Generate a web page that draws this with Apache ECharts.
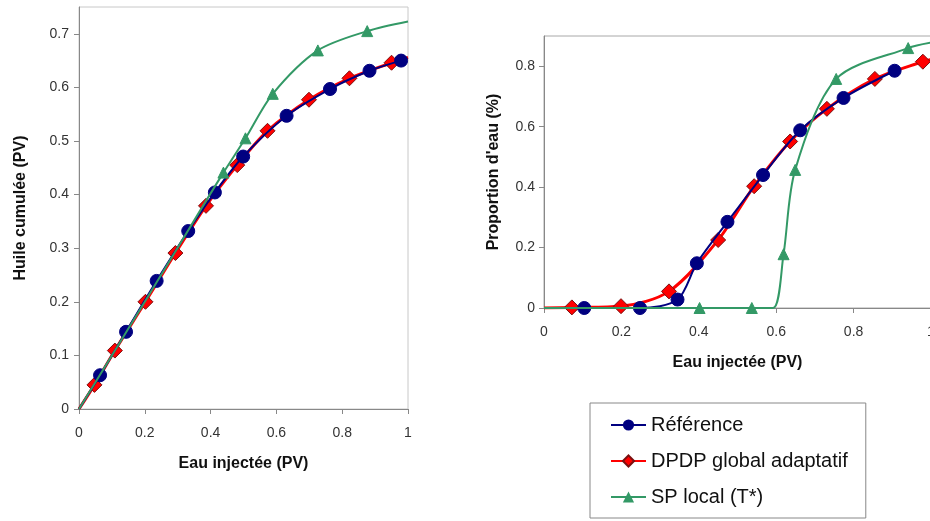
<!DOCTYPE html>
<html><head><meta charset="utf-8">
<script src="https://cdn.jsdelivr.net/npm/echarts@6/dist/echarts.min.js"></script>
<style>html,body{margin:0;padding:0;background:#fff}#c{width:930px;height:521px}</style>
</head><body><div id="c"></div>
<script>
// ---- data (x = Eau injectée PV) ----
const seriesNames = ['Référence', 'DPDP global adaptatif', 'SP local (T*)'];
const xTicks = [0, 0.2, 0.4, 0.6, 0.8, 1];
const leftYTicks = [0, 0.1, 0.2, 0.3, 0.4, 0.5, 0.6, 0.7];
const rightYTicks = [0, 0.2, 0.4, 0.6, 0.8];

// Left: Huile cumulée (PV)
const leftRef = [[0,0],[0.064,0.063],[0.143,0.144],[0.236,0.239],[0.332,0.332],[0.413,0.404],[0.499,0.471],[0.631,0.547],[0.763,0.597],[0.883,0.631],[0.979,0.650]];
const leftRefHidden = [0];
const leftDpdp = [[0,0],[0.047,0.045],[0.109,0.109],[0.202,0.200],[0.293,0.291],[0.386,0.379],[0.481,0.455],[0.573,0.519],[0.699,0.577],[0.822,0.617],[0.950,0.646],[1.0,0.656]];
const leftDpdpHidden = [0, 11];
const leftSp = [[0,0],[0.2,0.2],[0.37,0.372],[0.439,0.441],[0.506,0.505],[0.589,0.588],[0.726,0.669],[0.876,0.705],[1.0,0.723]];
const leftSpHidden = [0, 1, 2, 8];

// Right: Proportion d'eau (%)
const rightRef = [[0,0],[0.104,0],[0.248,0],[0.345,0.028],[0.395,0.148],[0.474,0.285],[0.566,0.440],[0.662,0.588],[0.774,0.695],[0.906,0.785]];
const rightRefHidden = [0];
const rightDpdp = [[0,0],[0.072,0.002],[0.199,0.006],[0.323,0.055],[0.450,0.225],[0.543,0.403],[0.636,0.551],[0.731,0.659],[0.855,0.758],[0.979,0.815],[1.0,0.822]];
const rightDpdpHidden = [0, 10];
const rightSp = [[0,0],[0.402,0],[0.537,0],[0.592,0],[0.619,0.178],[0.649,0.457],[0.755,0.758],[0.941,0.860],[1.0,0.878]];
const rightSpHidden = [0, 3, 8];

// ---- styling ----
const FONT = 'Liberation Sans, Arial, sans-serif';
const colRef = '#000080', colDpdp = '#ff0000', colSp = '#339966';

function pts(arr, hidden) {
  return arr.map((p, i) => hidden.includes(i) ? {value: p, symbol: 'none'} : p);
}
function mk(name, data, hidden, idx, kind) {
  const base = {
    name, type: 'line', xAxisIndex: idx, yAxisIndex: idx,
    data: pts(data, hidden), smooth: 0.3, clip: true
  };
  if (kind === 'ref') Object.assign(base, {
    symbol: 'circle', symbolSize: 13, z: 3,
    lineStyle: {color: colRef, width: 2}, itemStyle: {color: colRef, borderColor: colRef}
  });
  if (kind === 'dpdp') Object.assign(base, {
    symbol: 'diamond', symbolSize: 15, z: 2,
    lineStyle: {color: colDpdp, width: 3}, itemStyle: {color: colDpdp, borderColor: '#7a1010', borderWidth: 1}
  });
  if (kind === 'sp') Object.assign(base, {
    symbol: 'triangle', symbolSize: 11, z: 4,
    lineStyle: {color: colSp, width: 2}, itemStyle: {color: colSp, borderColor: colSp}
  });
  return base;
}

const axisLine = {show: true, lineStyle: {color: '#888', width: 1}};
const axisTick = {show: true, inside: false, length: 5, lineStyle: {color: '#888'}};
const nameStyle = {fontFamily: FONT, fontWeight: 'bold', fontSize: 16, color: '#111'};

const chart = echarts.init(document.getElementById('c'), null, {renderer: 'canvas'});
chart.setOption({
  animation: false,
  backgroundColor: '#fff',
  textStyle: {fontFamily: FONT},
  grid: [
    {left: 79, top: 7, width: 329, height: 402, show: true, borderColor: '#c8c8c8', borderWidth: 1, backgroundColor: 'transparent', outerBoundsMode: 'none', containLabel: false},
    {left: 544, top: 36, width: 387, height: 272, show: true, borderColor: '#a8a8a8', borderWidth: 1, backgroundColor: 'transparent', outerBoundsMode: 'none', containLabel: false}
  ],
  xAxis: [
    {gridIndex: 0, type: 'value', min: xTicks[0], max: xTicks[xTicks.length-1], interval: 0.2,
     name: 'Eau injectée (PV)', nameLocation: 'middle', nameGap: 47, nameTextStyle: nameStyle,
     axisLine, axisTick, splitLine: {show: false},
     axisLabel: {fontFamily: FONT, fontSize: 14, color: '#333', margin: 17}},
    {gridIndex: 1, type: 'value', min: xTicks[0], max: xTicks[xTicks.length-1], interval: 0.2,
     name: 'Eau injectée (PV)', nameLocation: 'middle', nameGap: 47, nameTextStyle: nameStyle,
     axisLine, axisTick, splitLine: {show: false},
     axisLabel: {fontFamily: FONT, fontSize: 14, color: '#333', margin: 17}}
  ],
  yAxis: [
    {gridIndex: 0, type: 'value', min: leftYTicks[0], max: 0.75, interval: 0.1,
     name: 'Huile cumulée (PV)', nameLocation: 'middle', nameGap: 50, nameTextStyle: nameStyle,
     axisLine, axisTick, splitLine: {show: false},
     axisLabel: {fontFamily: FONT, fontSize: 14, color: '#333', margin: 10, showMaxLabel: false}},
    {gridIndex: 1, type: 'value', min: rightYTicks[0], max: 0.9, interval: 0.2,
     name: "Proportion d'eau (%)", nameLocation: 'middle', nameGap: 42, nameTextStyle: nameStyle,
     axisLine, axisTick, splitLine: {show: false},
     axisLabel: {fontFamily: FONT, fontSize: 14, color: '#333', margin: 9, showMaxLabel: false}}
  ],
  legend: {
    data: seriesNames, orient: 'vertical', left: 590, top: 403,
    itemWidth: 35, itemHeight: 14, itemGap: 16,
    padding: [12, 18, 11, 20],
    borderColor: '#888', borderWidth: 1, backgroundColor: '#fff',
    textStyle: {fontFamily: FONT, fontSize: 20, color: '#111'}
  },
  series: [
    mk(seriesNames[1], leftDpdp, leftDpdpHidden, 0, 'dpdp'),
    mk(seriesNames[0], leftRef, leftRefHidden, 0, 'ref'),
    mk(seriesNames[2], leftSp, leftSpHidden, 0, 'sp'),
    mk(seriesNames[1], rightDpdp, rightDpdpHidden, 1, 'dpdp'),
    mk(seriesNames[0], rightRef, rightRefHidden, 1, 'ref'),
    mk(seriesNames[2], rightSp, rightSpHidden, 1, 'sp')
  ]
});
</script></body></html>
